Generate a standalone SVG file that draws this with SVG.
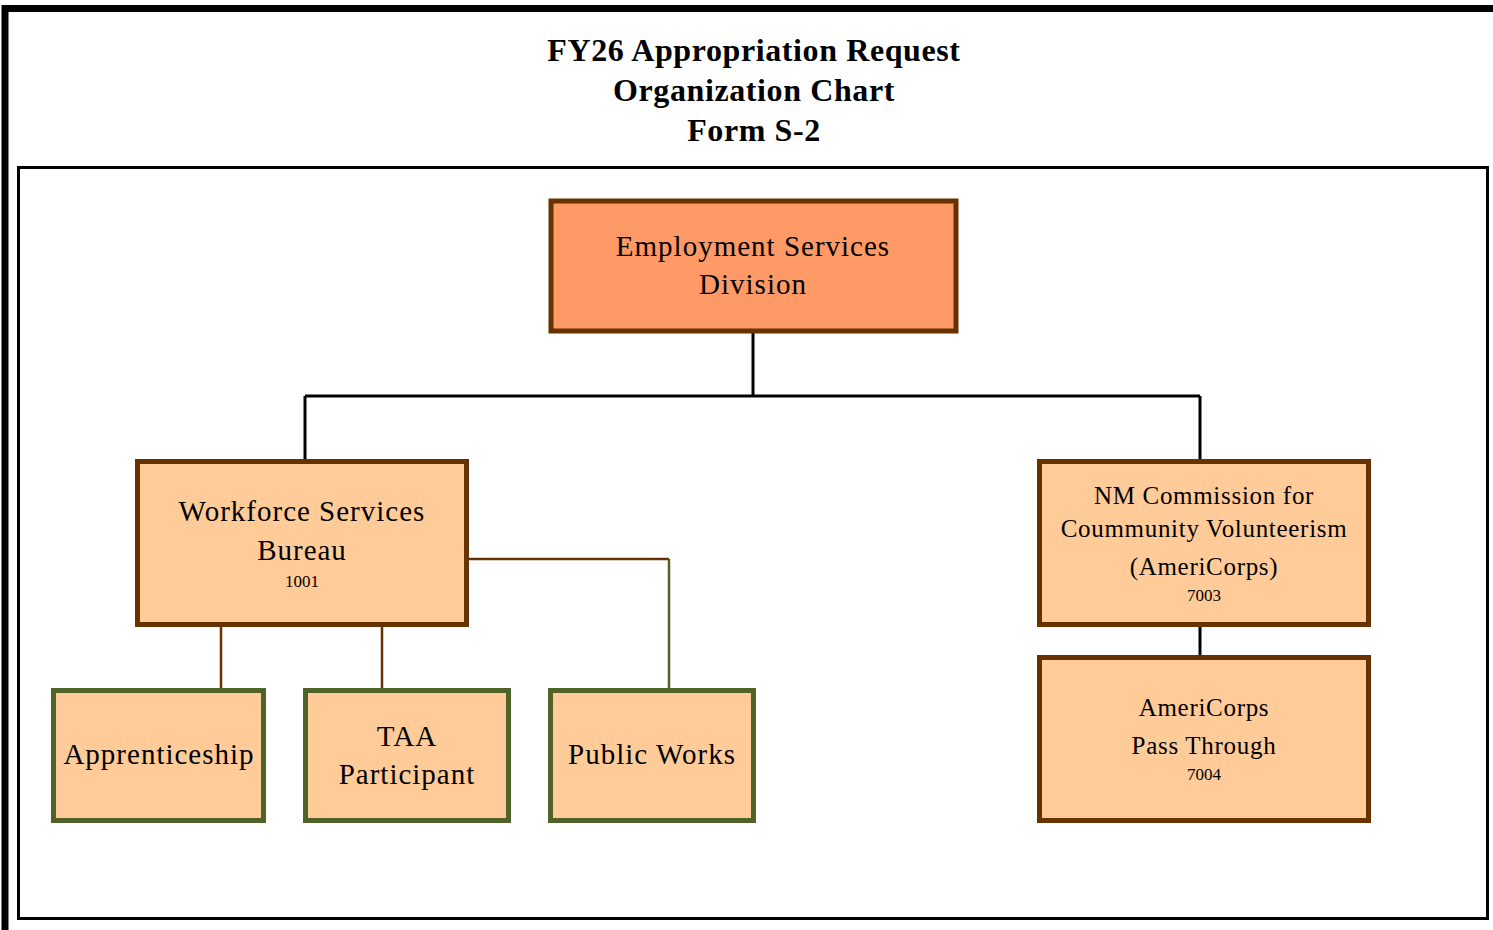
<svg xmlns="http://www.w3.org/2000/svg" width="1493" height="930" viewBox="0 0 1493 930">
  <style>
    .title { font-family: "Liberation Serif", "Times New Roman", serif; font-weight: bold; font-size: 32px; letter-spacing: 0.6px; fill: #000; text-anchor: middle; }
    .lbl { font-family: "Liberation Serif", "Times New Roman", serif; font-size: 29px; letter-spacing: 1px; fill: #000; text-anchor: middle; }
    .lbl-sm { font-family: "Liberation Serif", "Times New Roman", serif; font-size: 25px; letter-spacing: 0.7px; fill: #000; text-anchor: middle; }
    .code { font-family: "Liberation Serif", "Times New Roman", serif; font-size: 17px; fill: #000; text-anchor: middle; }
    .box-top { fill: #FF9966; stroke: #663300; stroke-width: 5; }
    .box-unit { fill: #FFCC99; stroke: #663300; stroke-width: 5; }
    .box-prog { fill: #FFCC99; stroke: #4F6228; stroke-width: 5; }
    .link-main { stroke: #000; stroke-width: 3; fill: none; }
    .link-sub { stroke: #663300; stroke-width: 2.5; fill: none; }
    .link-prog { stroke: #4F6228; stroke-width: 2.5; fill: none; }
  </style>

  <rect width="1493" height="930" fill="#fff"/>

  <!-- page frame -->
  <path d="M5 930 V8.5 H1493" fill="none" stroke="#000" stroke-width="7"/>
  <!-- chart area frame -->
  <rect x="18.5" y="167.5" width="1469" height="751" fill="none" stroke="#000" stroke-width="3"/>

  <!-- heading -->
  <g id="heading">
    <text class="title" x="754" y="61">FY26 Appropriation Request</text>
    <text class="title" x="754" y="101">Organization Chart</text>
    <text class="title" x="754" y="141">Form S-2</text>
  </g>

  <!-- connectors -->
  <g id="connectors">
    <path class="link-main" d="M753 333 V396 M305 396 H1200 M305 396 V460 M1200 396 V460"/>
    <path class="link-main" d="M1200 626 V656"/>
    <path class="link-sub" d="M221 626 V689 M382 626 V689 M468 559 H669"/>
    <path class="link-prog" d="M669 559 V689"/>
  </g>

  <g id="employment-services-division">
    <rect class="box-top" x="551" y="201" width="405" height="130"/>
    <text class="lbl" x="753" y="256">Employment Services</text>
    <text class="lbl" x="753" y="294">Division</text>
  </g>

  <g id="workforce-services-bureau">
    <rect class="box-unit" x="137.5" y="461.5" width="329" height="163"/>
    <text class="lbl" x="302" y="521">Workforce Services</text>
    <text class="lbl" x="302" y="560">Bureau</text>
    <text class="code" x="302" y="587">1001</text>
  </g>

  <g id="nm-commission">
    <rect class="box-unit" x="1039.5" y="461.5" width="329" height="163"/>
    <text class="lbl-sm" x="1204" y="504">NM Commission for</text>
    <text class="lbl-sm" x="1204" y="537">Coummunity Volunteerism</text>
    <text class="lbl-sm" x="1204" y="575">(AmeriCorps)</text>
    <text class="code" x="1204" y="601">7003</text>
  </g>

  <g id="americorps-pass-through">
    <rect class="box-unit" x="1039.5" y="657.5" width="329" height="163"/>
    <text class="lbl-sm" x="1204" y="716">AmeriCorps</text>
    <text class="lbl-sm" x="1204" y="754">Pass Through</text>
    <text class="code" x="1204" y="780">7004</text>
  </g>

  <g id="apprenticeship">
    <rect class="box-prog" x="53.5" y="690.5" width="210" height="130"/>
    <text class="lbl" x="159" y="764">Apprenticeship</text>
  </g>

  <g id="taa-participant">
    <rect class="box-prog" x="305.5" y="690.5" width="203" height="130"/>
    <text class="lbl" x="407" y="746">TAA</text>
    <text class="lbl" x="407" y="784">Participant</text>
  </g>

  <g id="public-works">
    <rect class="box-prog" x="550.5" y="690.5" width="203" height="130"/>
    <text class="lbl" x="652" y="764">Public Works</text>
  </g>
</svg>
